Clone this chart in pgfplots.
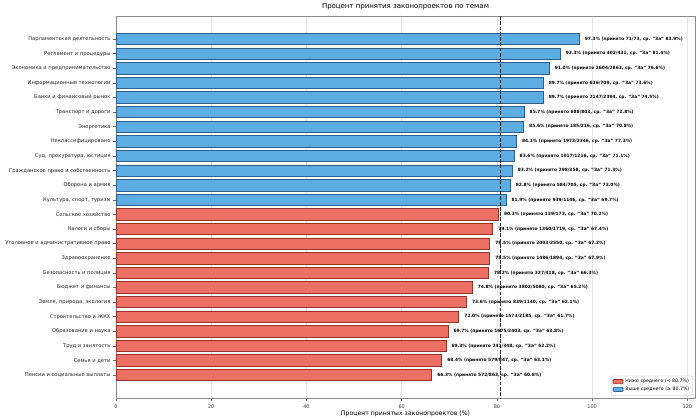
\documentclass[border=0pt]{standalone}
\usepackage{fontspec}
\setmainfont{DejaVu Sans}
\usepackage{pgfplots}
\pgfplotsset{compat=1.18}
\definecolor{bluefill}{RGB}{93,173,226}
\definecolor{blueedge}{RGB}{46,94,140}
\definecolor{redfill}{RGB}{236,112,99}
\definecolor{rededge}{RGB}{150,50,40}
\begin{document}
\begin{tikzpicture}
\begin{axis}[
  name=ax,
  scale only axis,
  width=579bp, height=382.5bp,
  xmin=0, xmax=121.6,
  ymin=-1.58, ymax=24.6,
  y dir=reverse,
  xtick={0,20,40,60,80,100,120},
  ytick={0,...,23},
  xtick pos=bottom, ytick pos=left,
  yticklabels={Парламентская деятельность,Регламент и процедуры,Экономика и предпринимательство,Информационные технологии,Банки и финансовый рынок,Транспорт и дороги,Энергетика,Неклассифицировано,{Суд, прокуратура, юстиция},Гражданское право и собственность,Оборона и армия,{Культура, спорт, туризм},Сельское хозяйство,Налоги и сборы,Уголовное и административное право,Здравоохранение,Безопасность и полиция,Бюджет и финансы,{Земля, природа, экология},Строительство и ЖКХ,Образование и наука,Труд и занятость,Семья и дети,Пенсии и социальные выплаты},
  /pgf/number format/assume math mode=true,
  tick align=outside,
  major tick length=2.5bp,
  tick style={black!60, line width=0.5bp},
  xticklabel style={font=\fontsize{5}{6}\selectfont, color=black!80},
  yticklabel style={font=\fontsize{5.2}{6}\selectfont, color=black!85, xshift=0.5bp},
  axis line style={black!45, line width=0.7bp},
  xmajorgrids,
  grid style={black!10, line width=0.5bp},
  title={Процент принятия законопроектов по темам},
  title style={font=\fontsize{7}{8}\selectfont, yshift=-3bp},
  xlabel={Процент принятых законопроектов (\%)},
  xlabel style={font=\fontsize{6.2}{7}\selectfont, yshift=4.5bp},
  reverse legend,
  legend style={at={(0.996,0.008)}, anchor=south east, font=\fontsize{4.7}{5.5}\selectfont, draw=black!30, inner sep=1.2bp, row sep=-1.2bp, cells={anchor=west}, rounded corners=1bp},
  legend image code/.code={\draw[#1] (0bp,-2bp) rectangle (10bp,2.2bp);},
]
\addplot[xbar, bar width=0.78, bar shift=0pt, fill=bluefill, draw=blueedge, line width=0.7bp,
  point meta=explicit symbolic, nodes near coords,
  nodes near coords style={anchor=west, inner sep=0pt, xshift=5.3bp, font=\fontsize{4.4}{5}\selectfont\bfseries, text=black}]
coordinates {
(97.3,0) [97.3\% (принято 71/73, ср. "За" 83.9\%)]
(93.3,1) [93.3\% (принято 402/431, ср. "За" 81.4\%)]
(91.0,2) [91.0\% (принято 2604/2863, ср. "За" 76.6\%)]
(89.7,3) [89.7\% (принято 636/709, ср. "За" 73.6\%)]
(89.7,4) [89.7\% (принято 2147/2394, ср. "За" 74.5\%)]
(85.7,5) [85.7\% (принято 688/803, ср. "За" 72.8\%)]
(85.6,6) [85.6\% (принято 185/216, ср. "За" 70.8\%)]
(84.1,7) [84.1\% (принято 1973/2346, ср. "За" 77.3\%)]
(83.6,8) [83.6\% (принято 1017/1216, ср. "За" 71.1\%)]
(83.2,9) [83.2\% (принято 298/358, ср. "За" 71.3\%)]
(82.8,10) [82.8\% (принято 584/705, ср. "За" 73.0\%)]
(81.9,11) [81.9\% (принято 939/1146, ср. "За" 69.7\%)]
};
\addlegendentry{Выше среднего (≥ 80.7\%)}
\addplot[xbar, bar width=0.78, bar shift=0pt, fill=redfill, draw=rededge, line width=0.7bp,
  point meta=explicit symbolic, nodes near coords,
  nodes near coords style={anchor=west, inner sep=0pt, xshift=5.3bp, font=\fontsize{4.4}{5}\selectfont\bfseries, text=black}]
coordinates {
(80.3,12) [80.3\% (принято 139/173, ср. "За" 70.2\%)]
(79.1,13) [79.1\% (принято 1360/1719, ср. "За" 67.4\%)]
(78.5,14) [78.5\% (принято 2003/2550, ср. "За" 67.2\%)]
(78.5,15) [78.5\% (принято 1486/1894, ср. "За" 67.9\%)]
(78.2,16) [78.2\% (принято 327/418, ср. "За" 66.3\%)]
(74.8,17) [74.8\% (принято 3802/5080, ср. "За" 65.2\%)]
(73.6,18) [73.6\% (принято 839/1140, ср. "За" 62.1\%)]
(72.0,19) [72.0\% (принято 1573/2185, ср. "За" 61.7\%)]
(69.7,20) [69.7\% (принято 1675/2403, ср. "За" 63.8\%)]
(69.3,21) [69.3\% (принято 241/348, ср. "За" 62.2\%)]
(68.4,22) [68.4\% (принято 579/847, ср. "За" 63.1\%)]
(66.3,23) [66.3\% (принято 572/863, ср. "За" 60.8\%)]
};
\addlegendentry{Ниже среднего (< 80.7\%)}
\addplot[forget plot, black!85, line width=1.3bp, dash pattern=on 3.7bp off 1.6bp] coordinates {(80.7,-1.58) (80.7,24.6)};
\end{axis}
\pgfresetboundingbox
\path[use as bounding box] ([shift={(-116bp,-19.5bp)}]ax.south west) rectangle ([shift={(5bp,16bp)}]ax.north east);
\end{tikzpicture}
\end{document}
